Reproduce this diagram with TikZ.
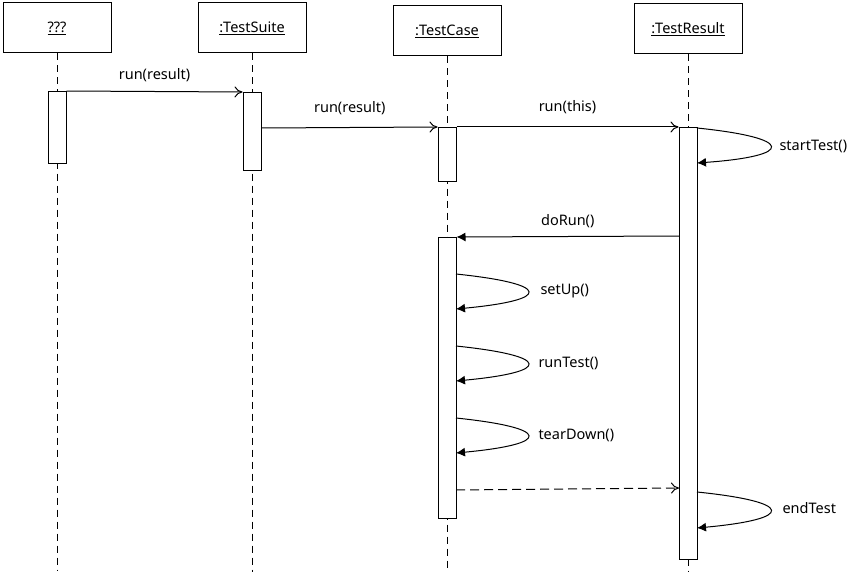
\documentclass[tikz,border=0pt]{standalone}
\usepackage{fontspec}
\setmainfont{Noto Sans}
\usetikzlibrary{arrows.meta}

\tikzset{
  obj/.style={draw, fill=white, minimum width=108pt, minimum height=50pt, inner sep=0pt,
    font=\fontsize{14.5}{17}\selectfont},
  act/.style={draw, fill=white, minimum width=18pt, inner sep=0pt, anchor=north},
  msglabel/.style={font=\fontsize{14.5}{17}\selectfont},
  selflabel/.style={msglabel, anchor=west, inner sep=0pt},
  lifeline/.style={dash pattern=on 7pt off 5pt},
  call/.style={-{To[length=8pt,width=11pt]}},
  selfcall/.style={-{Latex[length=9pt,width=9pt]}}
}

\begin{document}
\begin{tikzpicture}[x=1pt, y=-1pt, line width=1pt]
  \useasboundingbox (0,0) rectangle (859,575);

  % objects
  \node[obj] (unk) at (57,28) {\underline{???}};
  \node[obj] (suite) at (252,28) {\underline{:TestSuite}};
  \node[obj] (tcase) at (447,31) {\underline{:TestCase}};
  \node[obj] (tres) at (688,29) {\underline{:TestResult}};

  \coordinate (unkend) at (57,570);
  \coordinate (suiteend) at (252,572);
  \coordinate (tcaseend) at (447,572);
  \coordinate (tresend) at (688,572);

  \draw[lifeline] (unk) -- (unkend);
  \draw[lifeline] (suite) -- (suiteend);
  \draw[lifeline] (tcase) -- (tcaseend);
  \draw[lifeline] (tres) -- (tresend);

  % activations
  \node[act, minimum height=72pt] (unkact) at (57,91) {};
  \node[act, minimum height=78pt] (suiteact) at (252,92) {};
  \node[act, minimum height=54pt] (caseact) at (447,127) {};
  \node[act, minimum height=432pt] (resact) at (688,127) {};
  \node[act, minimum height=281pt] (runact) at (447,237) {};

  \coordinate (s2) at (262,128);
  \coordinate (d1) at (679,236);
  \coordinate (ret1) at (456,490);
  \coordinate (ret2) at (679,488);

  % messages
  \draw[call] (unkact.north east) -- (suiteact.north west)
    node[midway, above=6pt, msglabel] {run(result)};
  \draw[call] (s2) -- (caseact.north west)
    node[midway, above=9pt, msglabel] {run(result)};
  \draw[call] (caseact.north east) -- (resact.north west)
    node[midway, above=9pt, msglabel] {run(this)};
  \draw[selfcall] (d1) -- (runact.north east)
    node[midway, above=5pt, msglabel] {doRun()};
  \draw[call, dash pattern=on 9pt off 5pt] (ret1) -- (ret2);

  % self calls
  \coordinate (st1) at (697,128);
  \coordinate (st2) at (697,163);
  \draw[selfcall] (st1) .. controls (795,138) and (795,156) .. (st2);
  \node[selflabel] (stlbl) at (779,146) {startTest()};

  \coordinate (su1) at (456,274);
  \coordinate (su2) at (456,309);
  \draw[selfcall] (su1) .. controls (552,284) and (552,300) .. (su2);
  \node[selflabel] (sulbl) at (540,291) {setUp()};

  \coordinate (rt1) at (456,346);
  \coordinate (rt2) at (456,381);
  \draw[selfcall] (rt1) .. controls (552,356) and (552,372) .. (rt2);
  \node[selflabel] (rtlbl) at (538,363) {runTest()};

  \coordinate (td1) at (456,418);
  \coordinate (td2) at (456,453);
  \draw[selfcall] (td1) .. controls (552,428) and (552,444) .. (td2);
  \node[selflabel] (tdlbl) at (538,435) {tearDown()};

  \coordinate (et1) at (697,492);
  \coordinate (et2) at (697,528);
  \draw[selfcall] (et1) .. controls (795,502) and (795,519) .. (et2);
  \node[selflabel] (etlbl) at (782,508) {endTest};
\end{tikzpicture}
\end{document}
